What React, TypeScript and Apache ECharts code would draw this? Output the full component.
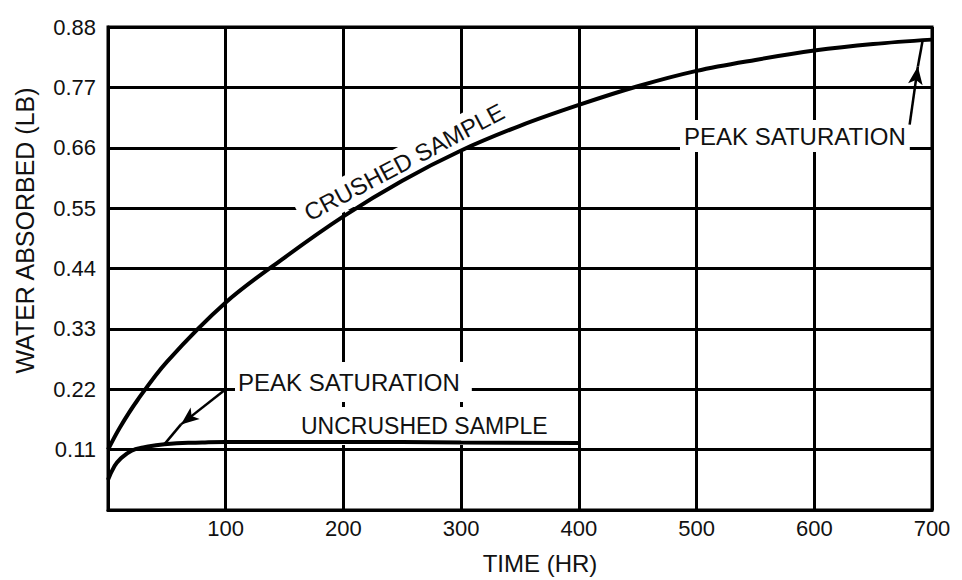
import React, { useEffect, useRef } from "react";
import * as echarts from "echarts";

// Crushed sample curve (time in hours, water absorbed in lb)
const crushedTime = [0, 10, 25, 50, 100, 150, 200, 250, 300, 350, 400, 450, 500, 550, 600, 650, 700];
const crushedWater = [0.11, 0.15, 0.2, 0.27, 0.378, 0.46, 0.535, 0.6, 0.655, 0.7, 0.738, 0.772, 0.8, 0.82, 0.837, 0.849, 0.857];

// Uncrushed sample curve
const uncrushedTime = [0, 5, 10, 20, 30, 48, 80, 100, 200, 300, 400];
const uncrushedWater = [0.055, 0.078, 0.092, 0.108, 0.114, 0.12, 0.123, 0.124, 0.124, 0.123, 0.122];

// Annotation arrows: [start, arrow tip, end]
const peakLowerArrow = [[100, 0.22], [62, 0.156], [48, 0.12]];
const peakUpperArrow = [[681, 0.702], [688, 0.808], [692, 0.855]];

const xMin = 0;
const xMax = 700;
const xInterval = 100;
const yMin = 0;
const yMax = 0.88;
const yInterval = 0.11;

const FONT = '"Liberation Sans", Arial, Helvetica, sans-serif';
const INK = "#111";

function arrowLines(pts: number[][]) {
  return [
    [
      { coord: pts[0], symbol: "none" },
      { coord: pts[1], symbol: "arrow" },
    ],
    [
      { coord: pts[1], symbol: "none" },
      { coord: pts[2], symbol: "none" },
    ],
  ];
}

export default function App() {
  const ref = useRef<HTMLDivElement>(null);

  useEffect(() => {
    if (!ref.current) return;
    const chart = echarts.init(ref.current, null, { renderer: "svg" });

    const crushed = crushedTime.map((t, i) => [t, crushedWater[i]]);
    const uncrushed = uncrushedTime.map((t, i) => [t, uncrushedWater[i]]);

    const textStyleBase = {
      fill: INK,
      backgroundColor: "#fff",
    };

    chart.setOption({
      animation: false,
      backgroundColor: "#fff",
      grid: {
        left: 108,
        top: 27,
        right: 30,
        bottom: 70,
        show: true,
        borderColor: "#000",
        borderWidth: 3,
        backgroundColor: "transparent",
      },
      xAxis: {
        type: "value",
        min: xMin,
        max: xMax,
        interval: xInterval,
        name: "TIME (HR)",
        nameLocation: "middle",
        nameGap: 41,
        nameTextStyle: {
          fontSize: 24,
          color: INK,
          fontFamily: FONT,
          padding: [0, 0, 0, 40],
        },
        axisLine: { show: true, lineStyle: { color: "#000", width: 3 } },
        axisTick: { show: false },
        splitLine: { show: true, lineStyle: { color: "#000", width: 3 } },
        axisLabel: {
          showMinLabel: false,
          fontSize: 22,
          color: INK,
          fontFamily: FONT,
          margin: 7,
        },
      },
      yAxis: {
        type: "value",
        min: yMin,
        max: yMax,
        interval: yInterval,
        name: "WATER ABSORBED (LB)",
        nameLocation: "middle",
        nameRotate: 90,
        nameGap: 71,
        nameTextStyle: {
          fontSize: 25,
          color: INK,
          fontFamily: FONT,
          padding: [0, 0, 0, 76],
        },
        axisLine: { show: true, lineStyle: { color: "#000", width: 3 } },
        axisTick: { show: false },
        splitLine: { show: true, lineStyle: { color: "#000", width: 3 } },
        axisLabel: {
          showMinLabel: false,
          fontSize: 22,
          color: INK,
          fontFamily: FONT,
          margin: 12,
          formatter: (v: number) => v.toFixed(2),
        },
      },
      series: [
        {
          name: "CRUSHED SAMPLE",
          type: "line",
          data: crushed,
          smooth: 0.35,
          showSymbol: false,
          lineStyle: { color: "#000", width: 4 },
          z: 3,
          markLine: {
            silent: true,
            symbolSize: [11, 18],
            label: { show: false },
            lineStyle: { color: "#000", width: 2.5, type: "solid" },
            data: arrowLines(peakUpperArrow),
          },
        },
        {
          name: "UNCRUSHED SAMPLE",
          type: "line",
          data: uncrushed,
          smooth: true,
          showSymbol: false,
          lineStyle: { color: "#000", width: 4 },
          z: 3,
          markLine: {
            silent: true,
            symbolSize: [11, 18],
            label: { show: false },
            lineStyle: { color: "#000", width: 2.5, type: "solid" },
            data: arrowLines(peakLowerArrow),
          },
        },
      ],
      graphic: [
        {
          type: "text",
          x: 404,
          y: 162,
          rotation: (28 * Math.PI) / 180,
          z: 1,
          style: {
            ...textStyleBase,
            text: "CRUSHED SAMPLE",
            x: 0,
            y: 0,
            align: "center",
            verticalAlign: "middle",
            font: `24px ${FONT}`,
            padding: [6, 6, 2, 6],
          },
        },
        {
          type: "text",
          x: 235,
          y: 382,
          z: 1,
          style: {
            ...textStyleBase,
            text: "PEAK SATURATION",
            x: 0,
            y: 0,
            align: "left",
            verticalAlign: "middle",
            font: `24px ${FONT}`,
            padding: [8, 12, 8, 3],
          },
        },
        {
          type: "text",
          x: 297,
          y: 426,
          z: 1,
          style: {
            ...textStyleBase,
            text: "UNCRUSHED SAMPLE",
            x: 0,
            y: 0,
            align: "left",
            verticalAlign: "middle",
            font: `23px ${FONT}`,
            padding: [12, 4, 3, 4],
          },
        },
        {
          type: "text",
          x: 680,
          y: 136,
          z: 1,
          style: {
            ...textStyleBase,
            text: "PEAK SATURATION",
            x: 0,
            y: 0,
            align: "left",
            verticalAlign: "middle",
            font: `24px ${FONT}`,
            padding: [8, 4, 0, 4],
          },
        },
      ],
    });

    return () => chart.dispose();
  }, []);

  return (
    <div
      ref={ref}
      style={{
        position: "absolute",
        left: 0,
        top: 0,
        width: 962,
        height: 580,
        background: "#fff",
      }}
    />
  );
}
